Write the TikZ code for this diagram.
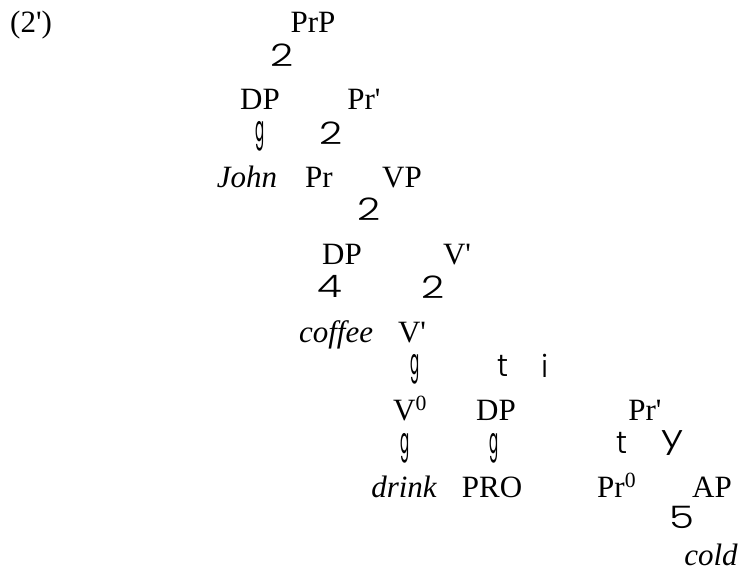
\documentclass[tikz,border=0pt]{standalone}
\usepackage{fontspec}
\setmainfont{Liberation Serif}[Ligatures=TeXOff]
\newfontfamily\glyphfont{Poppins}[UprightFont={* Light}]
\newfontfamily\gfont{Poppins}
\begin{document}
\begin{tikzpicture}[x=1pt,y=-1pt,
  lbl/.style={anchor=base, inner sep=0pt, font=\fontsize{31}{36}\selectfont},
  itl/.style={lbl, font=\fontsize{31}{36}\selectfont\itshape},
  br/.style={anchor=center, inner sep=0pt, font=\fontsize{31}{36}\selectfont\glyphfont, xscale=1.3},
  tb/.style={anchor=center, inner sep=0pt, font=\fontsize{31}{36}\selectfont\glyphfont},
  gb/.style={anchor=center, inner sep=0pt, font=\fontsize{30}{34}\selectfont\gfont, xscale=0.45, yscale=1.2},
]
\useasboundingbox (0,0) rectangle (739,577);
% example number
\node[lbl, anchor=base west] (ex) at (10,33) {(2')};
% level 0
\node[lbl] (prp1) at (313,33) {PrP};
\node[br] (b1) at (282,55) {2};
% level 1
\node[lbl] (dp1) at (260,110) {DP};
\node[lbl] (prb1) at (364,110) {Pr'};
\node[gb] (g1) at (260,136) {g};
\node[br] (b2) at (331,133) {2};
% level 2
\node[itl] (john) at (247,188) {John};
\node[lbl] (pr) at (319,188) {Pr};
\node[lbl] (vp) at (402,188) {VP};
\node[br] (b3) at (369,209) {2};
% level 3
\node[lbl] (dp2) at (342,265) {DP};
\node[lbl] (vb1) at (457,265) {V'};
\node[br] (b4) at (330,286) {4};
\node[br] (b5) at (433,287) {2};
% level 4
\node[itl] (coffee) at (336,342) {coffee};
\node[lbl] (vb2) at (412,342) {V'};
\node[gb] (g2) at (415,369) {g};
\node[tb] (t1) at (503,366) {t};
\node[tb] (i1) at (545,366) {i};
% level 5
\node[lbl, anchor=base west] (v0) at (393,420) {V\textsuperscript{0}};
\node[lbl] (dp3) at (496,420) {DP};
\node[lbl] (prb2) at (645,420) {Pr'};
\node[gb] (g3) at (405,448) {g};
\node[gb] (g4) at (494,448) {g};
\node[tb] (t2) at (622,443) {t};
\node[br] (y1) at (672,443) {y};
% level 6
\node[itl] (drink) at (404,497) {drink};
\node[lbl] (pro) at (492,497) {PRO};
\node[lbl, anchor=base west] (pr0) at (597,497) {Pr\textsuperscript{0}};
\node[lbl] (ap) at (712,497) {AP};
\node[br] (b6) at (682,517) {5};
% level 7
\node[itl] (cold) at (711,565) {cold};
\end{tikzpicture}
\end{document}
